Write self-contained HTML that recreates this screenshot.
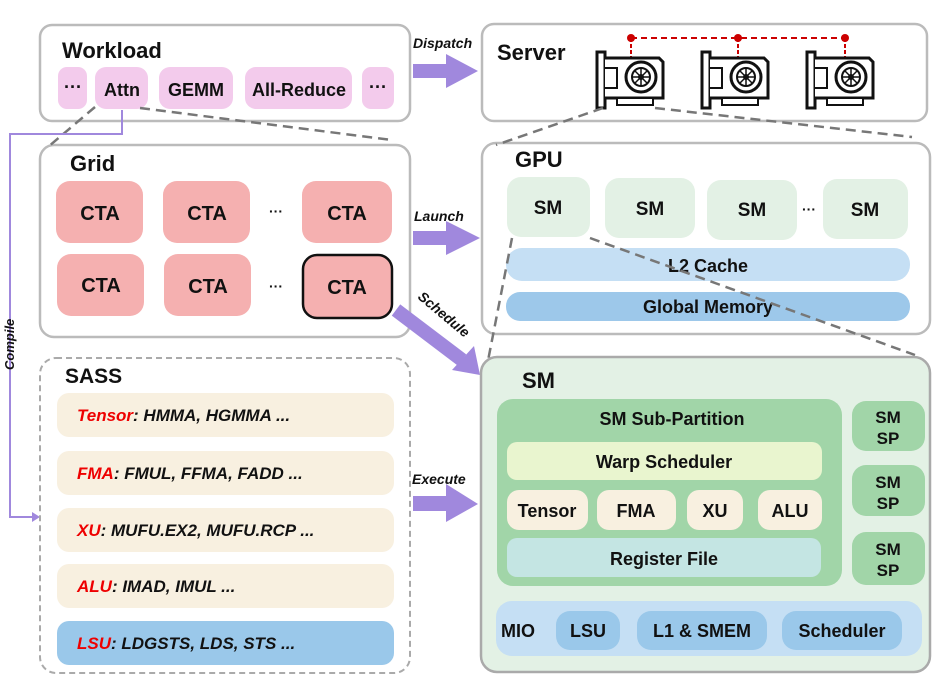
<!DOCTYPE html>
<html><head><meta charset="utf-8"><style>
body{margin:0;background:#fff}
svg{display:block}
text{font-family:"Liberation Sans",sans-serif;font-weight:bold;fill:#111}
</style></head><body>
<svg width="946" height="686" viewBox="0 0 946 686" xmlns="http://www.w3.org/2000/svg">
<defs>
<g id="gpu">
<rect x="0" y="2" width="8" height="56" fill="#fff" stroke="#111" stroke-width="3"/>
<path d="M8 8 H62 L66 12 V48 H8" fill="#fff" stroke="#111" stroke-width="3"/>
<path d="M8 18 H20 V38 H8" fill="none" stroke="#111" stroke-width="2"/>
<circle cx="44" cy="27" r="15" fill="#fff" stroke="#111" stroke-width="3"/>
<circle cx="44" cy="27" r="9" fill="none" stroke="#111" stroke-width="2"/>
<circle cx="44" cy="27" r="3" fill="#111"/>
<path d="M44 18V36M35 27H53M38 21L50 33M50 21L38 33" stroke="#111" stroke-width="1.5"/>
<rect x="20" y="48" width="36" height="7" fill="#fff" stroke="#111" stroke-width="2"/>
</g>
</defs>

<!-- Workload -->
<rect x="40" y="25" width="370" height="96" rx="12" fill="#fff" stroke="#bbb" stroke-width="2.5"/>
<text x="62" y="58" font-size="22">Workload</text>
<g fill="#f3cbec">
<rect x="58" y="67" width="29" height="42" rx="9"/>
<rect x="95" y="67" width="53" height="42" rx="11"/>
<rect x="159" y="67" width="74" height="42" rx="11"/>
<rect x="245" y="67" width="107" height="42" rx="11"/>
<rect x="362" y="67" width="32" height="42" rx="9"/>
</g>
<g font-size="18" text-anchor="middle">
<text x="73" y="93">···</text><text x="122" y="96">Attn</text><text x="196" y="96">GEMM</text><text x="299" y="96">All-Reduce</text><text x="378" y="93">···</text>
</g>

<!-- Server -->
<rect x="482" y="24" width="445" height="97" rx="12" fill="#fff" stroke="#bbb" stroke-width="2.5"/>
<text x="497" y="60" font-size="22">Server</text>
<path d="M631 38H845" stroke="#c00" stroke-width="2" stroke-dasharray="6,4"/>
<path d="M631 38V57M738 38V57M845 38V57" stroke="#c00" stroke-width="2" stroke-dasharray="4,2"/>
<circle cx="631" cy="38" r="4" fill="#c00"/><circle cx="738" cy="38" r="4" fill="#c00"/><circle cx="845" cy="38" r="4" fill="#c00"/>
<use href="#gpu" x="597" y="50"/><use href="#gpu" x="702" y="50"/><use href="#gpu" x="807" y="50"/>

<!-- Dispatch -->
<text x="413" y="48" font-size="14" font-style="italic">Dispatch</text>
<polygon points="413,64 446,64 446,54 478,71 446,88 446,78 413,78" fill="#a088dd"/>

<!-- Grid -->
<rect x="40" y="145" width="370" height="192" rx="14" fill="#fff" stroke="#bbb" stroke-width="2.5"/>
<text x="70" y="171" font-size="22">Grid</text>
<g fill="#f5b0b0">
<rect x="56" y="181" width="87" height="62" rx="14"/><rect x="163" y="181" width="87" height="62" rx="14"/><rect x="302" y="181" width="90" height="62" rx="14"/>
<rect x="57" y="254" width="87" height="62" rx="14"/><rect x="164" y="254" width="87" height="62" rx="14"/>
<rect x="303" y="255" width="89" height="63" rx="14" stroke="#111" stroke-width="2.5"/>
</g>
<g font-size="20" text-anchor="middle">
<text x="100" y="220">CTA</text><text x="207" y="220">CTA</text><text x="347" y="220">CTA</text>
<text x="101" y="292">CTA</text><text x="208" y="293">CTA</text><text x="347" y="294">CTA</text>
<text x="276" y="216" font-size="14">···</text><text x="276" y="291" font-size="14">···</text>
</g>

<!-- Launch -->
<text x="414" y="221" font-size="14" font-style="italic">Launch</text>
<polygon points="413,231 446,231 446,221 480,238 446,255 446,245 413,245" fill="#a088dd"/>

<!-- GPU -->
<rect x="482" y="143" width="448" height="191" rx="14" fill="#fff" stroke="#bbb" stroke-width="2.5"/>
<text x="515" y="167" font-size="22">GPU</text>
<g fill="#e3f1e5">
<rect x="507" y="177" width="83" height="60" rx="14"/><rect x="605" y="178" width="90" height="60" rx="14"/><rect x="707" y="180" width="90" height="60" rx="14"/><rect x="823" y="179" width="85" height="60" rx="14"/>
</g>
<g font-size="19" text-anchor="middle">
<text x="548" y="214">SM</text><text x="650" y="215">SM</text><text x="752" y="216">SM</text><text x="865" y="216">SM</text>
</g>
<text x="809" y="214" font-size="14" text-anchor="middle">···</text>
<rect x="506" y="248" width="404" height="33" rx="16" fill="#c5dff4"/>
<text x="708" y="272" font-size="18" text-anchor="middle">L2 Cache</text>
<rect x="506" y="292" width="404" height="29" rx="14" fill="#9dc8ea"/>
<text x="708" y="313" font-size="18" text-anchor="middle">Global Memory</text>

<!-- dashed zoom lines -->
<g stroke="#777" stroke-width="2.5" stroke-dasharray="10,6" fill="none">
<path d="M95 107L48 147"/><path d="M140 108L392 140"/>
<path d="M603 108L496 145"/><path d="M655 108L912 137"/>
<path d="M512 238L485 376"/><path d="M590 238L915 355"/>
</g>

<!-- Schedule -->
<line x1="396" y1="310" x2="462" y2="360" stroke="#a088dd" stroke-width="14"/>
<polygon points="452,370 480,375 474,346" fill="#a088dd"/>
<text x="0" y="0" font-size="14" font-style="italic" transform="translate(417,298) rotate(40)">Schedule</text>

<!-- Compile -->
<path d="M122 110V134H10V517H34" stroke="#a088dd" stroke-width="2" fill="none"/>
<polygon points="32,512 40,517 32,522" fill="#a088dd"/>
<text x="0" y="0" font-size="13" font-style="italic" transform="translate(14,370) rotate(-90)">Compile</text>

<!-- SASS -->
<rect x="40" y="358" width="370" height="315" rx="16" fill="#fff" stroke="#aaa" stroke-width="2" stroke-dasharray="6,4"/>
<text x="65" y="383" font-size="21">SASS</text>
<g>
<rect x="57" y="393" width="337" height="44" rx="12" fill="#f8f0e0"/>
<rect x="57" y="451" width="337" height="44" rx="12" fill="#f8f0e0"/>
<rect x="57" y="508" width="337" height="44" rx="12" fill="#f8f0e0"/>
<rect x="57" y="564" width="337" height="44" rx="12" fill="#f8f0e0"/>
<rect x="57" y="621" width="337" height="44" rx="12" fill="#9ac8ea"/>
</g>
<g font-size="17" font-style="italic">
<text x="77" y="421"><tspan fill="#e00">Tensor</tspan>: HMMA, HGMMA ...</text>
<text x="77" y="479"><tspan fill="#e00">FMA</tspan>: FMUL, FFMA, FADD ...</text>
<text x="77" y="536"><tspan fill="#e00">XU</tspan>: MUFU.EX2, MUFU.RCP ...</text>
<text x="77" y="592"><tspan fill="#e00">ALU</tspan>: IMAD, IMUL ...</text>
<text x="77" y="649"><tspan fill="#e00">LSU</tspan>: LDGSTS, LDS, STS ...</text>
</g>

<!-- Execute -->
<text x="412" y="484" font-size="14" font-style="italic">Execute</text>
<polygon points="413,496 446,496 446,484 478,504 446,522 446,511 413,511" fill="#a088dd"/>

<!-- SM -->
<rect x="481" y="357" width="449" height="315" rx="16" fill="#e3f1e5" stroke="#aaa" stroke-width="2.5"/>
<text x="522" y="388" font-size="22">SM</text>
<rect x="497" y="399" width="345" height="187" rx="16" fill="#a1d5a8"/>
<text x="672" y="425" font-size="18" text-anchor="middle">SM Sub-Partition</text>
<rect x="507" y="442" width="315" height="38" rx="10" fill="#e9f5cf"/>
<text x="664" y="468" font-size="18" text-anchor="middle">Warp  Scheduler</text>
<g fill="#f8f0e0">
<rect x="507" y="490" width="81" height="40" rx="12"/><rect x="597" y="490" width="79" height="40" rx="12"/><rect x="687" y="490" width="56" height="40" rx="12"/><rect x="758" y="490" width="64" height="40" rx="12"/>
</g>
<g font-size="18" text-anchor="middle">
<text x="547" y="517">Tensor</text><text x="636" y="517">FMA</text><text x="715" y="517">XU</text><text x="790" y="517">ALU</text>
</g>
<rect x="507" y="538" width="314" height="39" rx="10" fill="#c4e5e3"/>
<text x="664" y="565" font-size="18" text-anchor="middle">Register File</text>
<g fill="#a1d5a8">
<rect x="852" y="401" width="73" height="50" rx="14"/><rect x="852" y="465" width="73" height="51" rx="14"/><rect x="852" y="532" width="73" height="53" rx="14"/>
</g>
<g font-size="17" text-anchor="middle">
<text x="888" y="423">SM</text><text x="888" y="444">SP</text>
<text x="888" y="488">SM</text><text x="888" y="509">SP</text>
<text x="888" y="555">SM</text><text x="888" y="576">SP</text>
</g>
<rect x="496" y="601" width="426" height="55" rx="16" fill="#c5dff4"/>
<g fill="#9ac8ea">
<rect x="556" y="611" width="64" height="39" rx="14"/><rect x="637" y="611" width="130" height="39" rx="14"/><rect x="782" y="611" width="120" height="39" rx="14"/>
</g>
<g font-size="18">
<text x="501" y="637">MIO</text>
<text x="588" y="637" text-anchor="middle">LSU</text><text x="702" y="637" text-anchor="middle">L1 &amp; SMEM</text><text x="842" y="637" text-anchor="middle">Scheduler</text>
</g>
</svg>
</body></html>
